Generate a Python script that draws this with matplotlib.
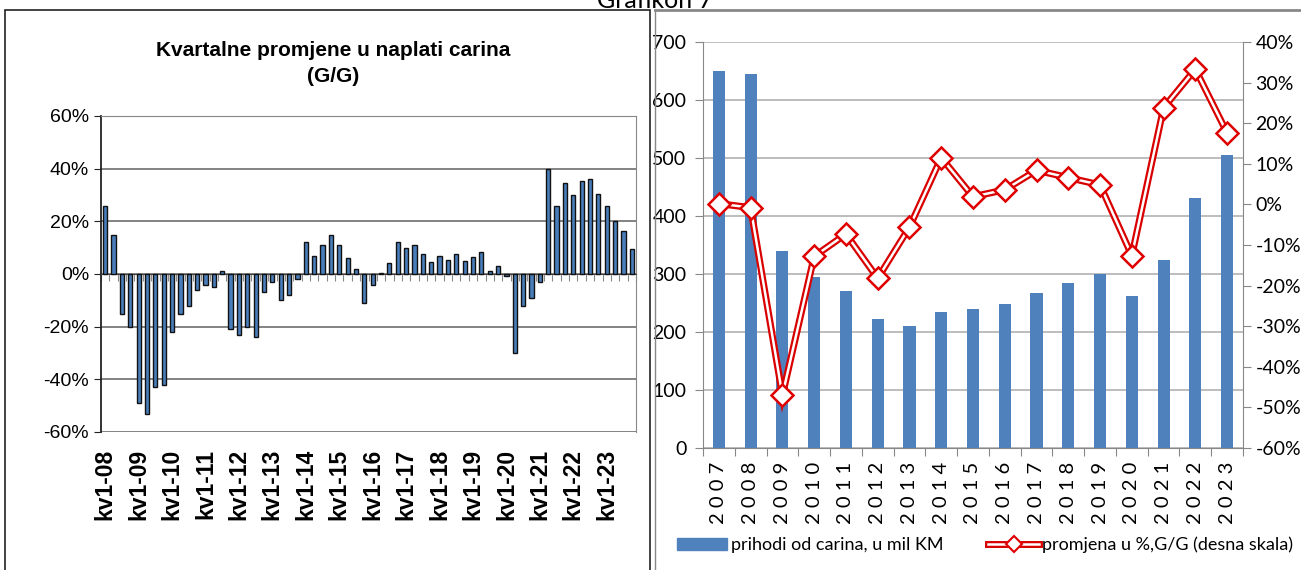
import matplotlib.pyplot as plt
from matplotlib.lines import Line2D
from matplotlib.patches import Rectangle
from matplotlib.legend_handler import HandlerTuple

# left chart: quarterly y/y change in customs collection, kv1-08 .. kv4-23 (%)
quarterly_change = [
    26, 15, -15, -20, -49, -53, -43, -42,
    -22, -15, -12, -6, -4, -5, 1, -21,
    -23, -20, -24, -7, -3, -10, -8, -2,
    12, 7, 11, 15, 11, 6, 2, -11,
    -4, 0.3, 4, 12, 10, 11, 7.5, 4.5,
    7, 5.5, 7.5, 5, 6.5, 8.5, 1, 3,
    -0.8, -30, -12, -9, -3, 40, 26, 34.5,
    30, 35.5, 36, 30.5, 26, 20, 16.5, 9.5,
]
quarter_labels = ["kv1-%02d" % y for y in range(8, 24)]

# right chart: yearly customs revenue and y/y change
years = [str(y) for y in range(2007, 2024)]
revenue = [650, 645, 340, 295, 271, 223, 210, 235, 239, 248, 267, 285, 300, 262, 325, 431, 506]
change_pct = [0.2, -0.8, -47, -12.8, -7.3, -18.2, -5.6, 11.5, 1.9, 3.6, 8.4, 6.6, 4.8, -12.6, 23.8, 33.3, 17.6]

W, H = 1301, 570
fig = plt.figure(figsize=(W / 100, H / 100), dpi=100)


def box(x0, y0, x1, y1):
    # pixel box (top-left origin) -> figure fraction rect
    return [x0 / W, 1 - y1 / H, (x1 - x0) / W, (y1 - y0) / H]


# panel frames
fig.add_artist(Rectangle((5 / W, -0.01), 645 / W, 1 - 10 / H + 0.01, transform=fig.transFigure,
                         fill=False, edgecolor="#222222", linewidth=1.2))
fig.add_artist(Line2D([655 / W, 1], [1 - 10 / H, 1 - 10 / H], transform=fig.transFigure,
                      color="#888888", linewidth=2))
fig.add_artist(Line2D([655 / W, 655 / W], [0, 1 - 10 / H], transform=fig.transFigure,
                      color="#888888", linewidth=1))
fig.text(655 / W, 1 - 1 / H, "Grafikon 7", ha="center", va="center", fontsize=18, family="Lato")

# ---------- left chart ----------
ax = fig.add_axes(box(101, 116, 636, 432))
x = list(range(len(quarterly_change)))
ax.bar(x, quarterly_change, width=0.5, color="#4A7EBB", edgecolor="#111111", linewidth=1, zorder=3)
ax.set_xlim(-0.5, len(x) - 0.5)
ax.set_ylim(-60, 60)
ax.set_yticks(range(-60, 61, 20))
ax.set_yticklabels(["%d%%" % v for v in range(-60, 61, 20)], fontsize=14, family="Liberation Sans")
ax.grid(axis="y", color="#6e6e6e", linewidth=1.2, zorder=0)
ax.spines["bottom"].set_position(("data", 0))
ax.spines["bottom"].set_color("#444444")
ax.spines["left"].set_color("#222222")
ax.spines["left"].set_linewidth(1.3)
for s in ("top", "right"):
    ax.spines[s].set_color("#888888")
ax.set_xticks([i + 0.5 for i in range(-1, len(x))])
ax.tick_params(axis="x", length=5, color="#888888", labelbottom=False, direction="out")
ax.tick_params(axis="y", length=5, color="#222222")

sec = ax.secondary_xaxis(0)
sec.set_xticks(list(range(0, len(x), 4)))
sec.set_xticklabels(quarter_labels, rotation=90, fontsize=16.5, fontweight="bold", family="Liberation Sans")
sec.tick_params(length=0, pad=12)
sec.spines["bottom"].set_visible(False)

fig.text(333 / W, 1 - 50 / H, "Kvartalne promjene u naplati carina", ha="center", va="center",
         fontsize=15, fontweight="bold", family="Liberation Sans")
fig.text(333 / W, 1 - 76 / H, "(G/G)", ha="center", va="center",
         fontsize=15, fontweight="bold", family="Liberation Sans")

# ---------- right chart ----------
narrow = "Lato"
axr = fig.add_axes(box(703, 42, 1243, 448))
xr = list(range(len(years)))
axr.bar(xr, revenue, width=0.38, color="#4F81BD", zorder=3, label="prihodi od carina, u mil KM")
axr.set_xlim(-0.5, len(xr) - 0.5)
axr.set_ylim(0, 700)
axr.set_yticks(range(0, 701, 100))
axr.set_yticklabels([str(v) for v in range(0, 701, 100)], fontsize=14, family=narrow)
axr.grid(axis="y", color="#b8b8b8", linewidth=1.3, zorder=0)
axr.set_xticks([i + 0.5 for i in range(-1, len(xr))])
axr.set_xticklabels([])
axr.tick_params(axis="x", length=6, color="#888888")
axr.tick_params(axis="y", length=6, color="#888888", pad=6)
for s in ("top", "right"):
    axr.spines[s].set_visible(False)
for s in ("left", "bottom"):
    axr.spines[s].set_color("#888888")
for i, yr in enumerate(years):
    axr.text(i, -24, " ".join(yr), rotation=90, ha="center", va="top", fontsize=14.5, family=narrow)

ax2 = axr.twinx()
ax2.set_ylim(-60, 40)
ax2.set_yticks(range(-60, 41, 10))
ax2.set_yticklabels(["%d%%" % v for v in range(-60, 41, 10)], fontsize=14, family=narrow)
ax2.tick_params(axis="y", length=6, color="#888888", pad=3)
for s in ("top", "left", "bottom"):
    ax2.spines[s].set_visible(False)
ax2.spines["right"].set_color("#888888")
ax2.plot(xr, change_pct, color="#D90000", linewidth=5, solid_joinstyle="miter", zorder=3)
ax2.plot(xr, change_pct, color="white", linewidth=1.8, zorder=4)
ax2.plot(xr, change_pct, linestyle="none", marker="D", markersize=11, markerfacecolor="white",
         markeredgecolor="#E00000", markeredgewidth=1.8, zorder=5)

# legend
bar_handle = Rectangle((0, 0), 1, 1, color="#4F81BD")
line_handle = (Line2D([], [], color="#D90000", linewidth=5),
               Line2D([], [], color="white", linewidth=1.8),
               Line2D([], [], linestyle="none", marker="D", markersize=8, markerfacecolor="white",
                      markeredgecolor="#E00000", markeredgewidth=1.5))
fig.legend([bar_handle, line_handle],
           ["prihodi od carina, u mil KM", "promjena u %,G/G (desna skala)"],
           handler_map={tuple: HandlerTuple(ndivide=1, pad=0)},
           loc="center", bbox_to_anchor=(985 / W, 1 - 545 / H), ncol=2, frameon=False,
           prop={"family": narrow, "size": 13}, handlelength=2.8, handleheight=0.6,
           handletextpad=0.2, columnspacing=2.5)

fig.savefig("out.png", dpi=100)
